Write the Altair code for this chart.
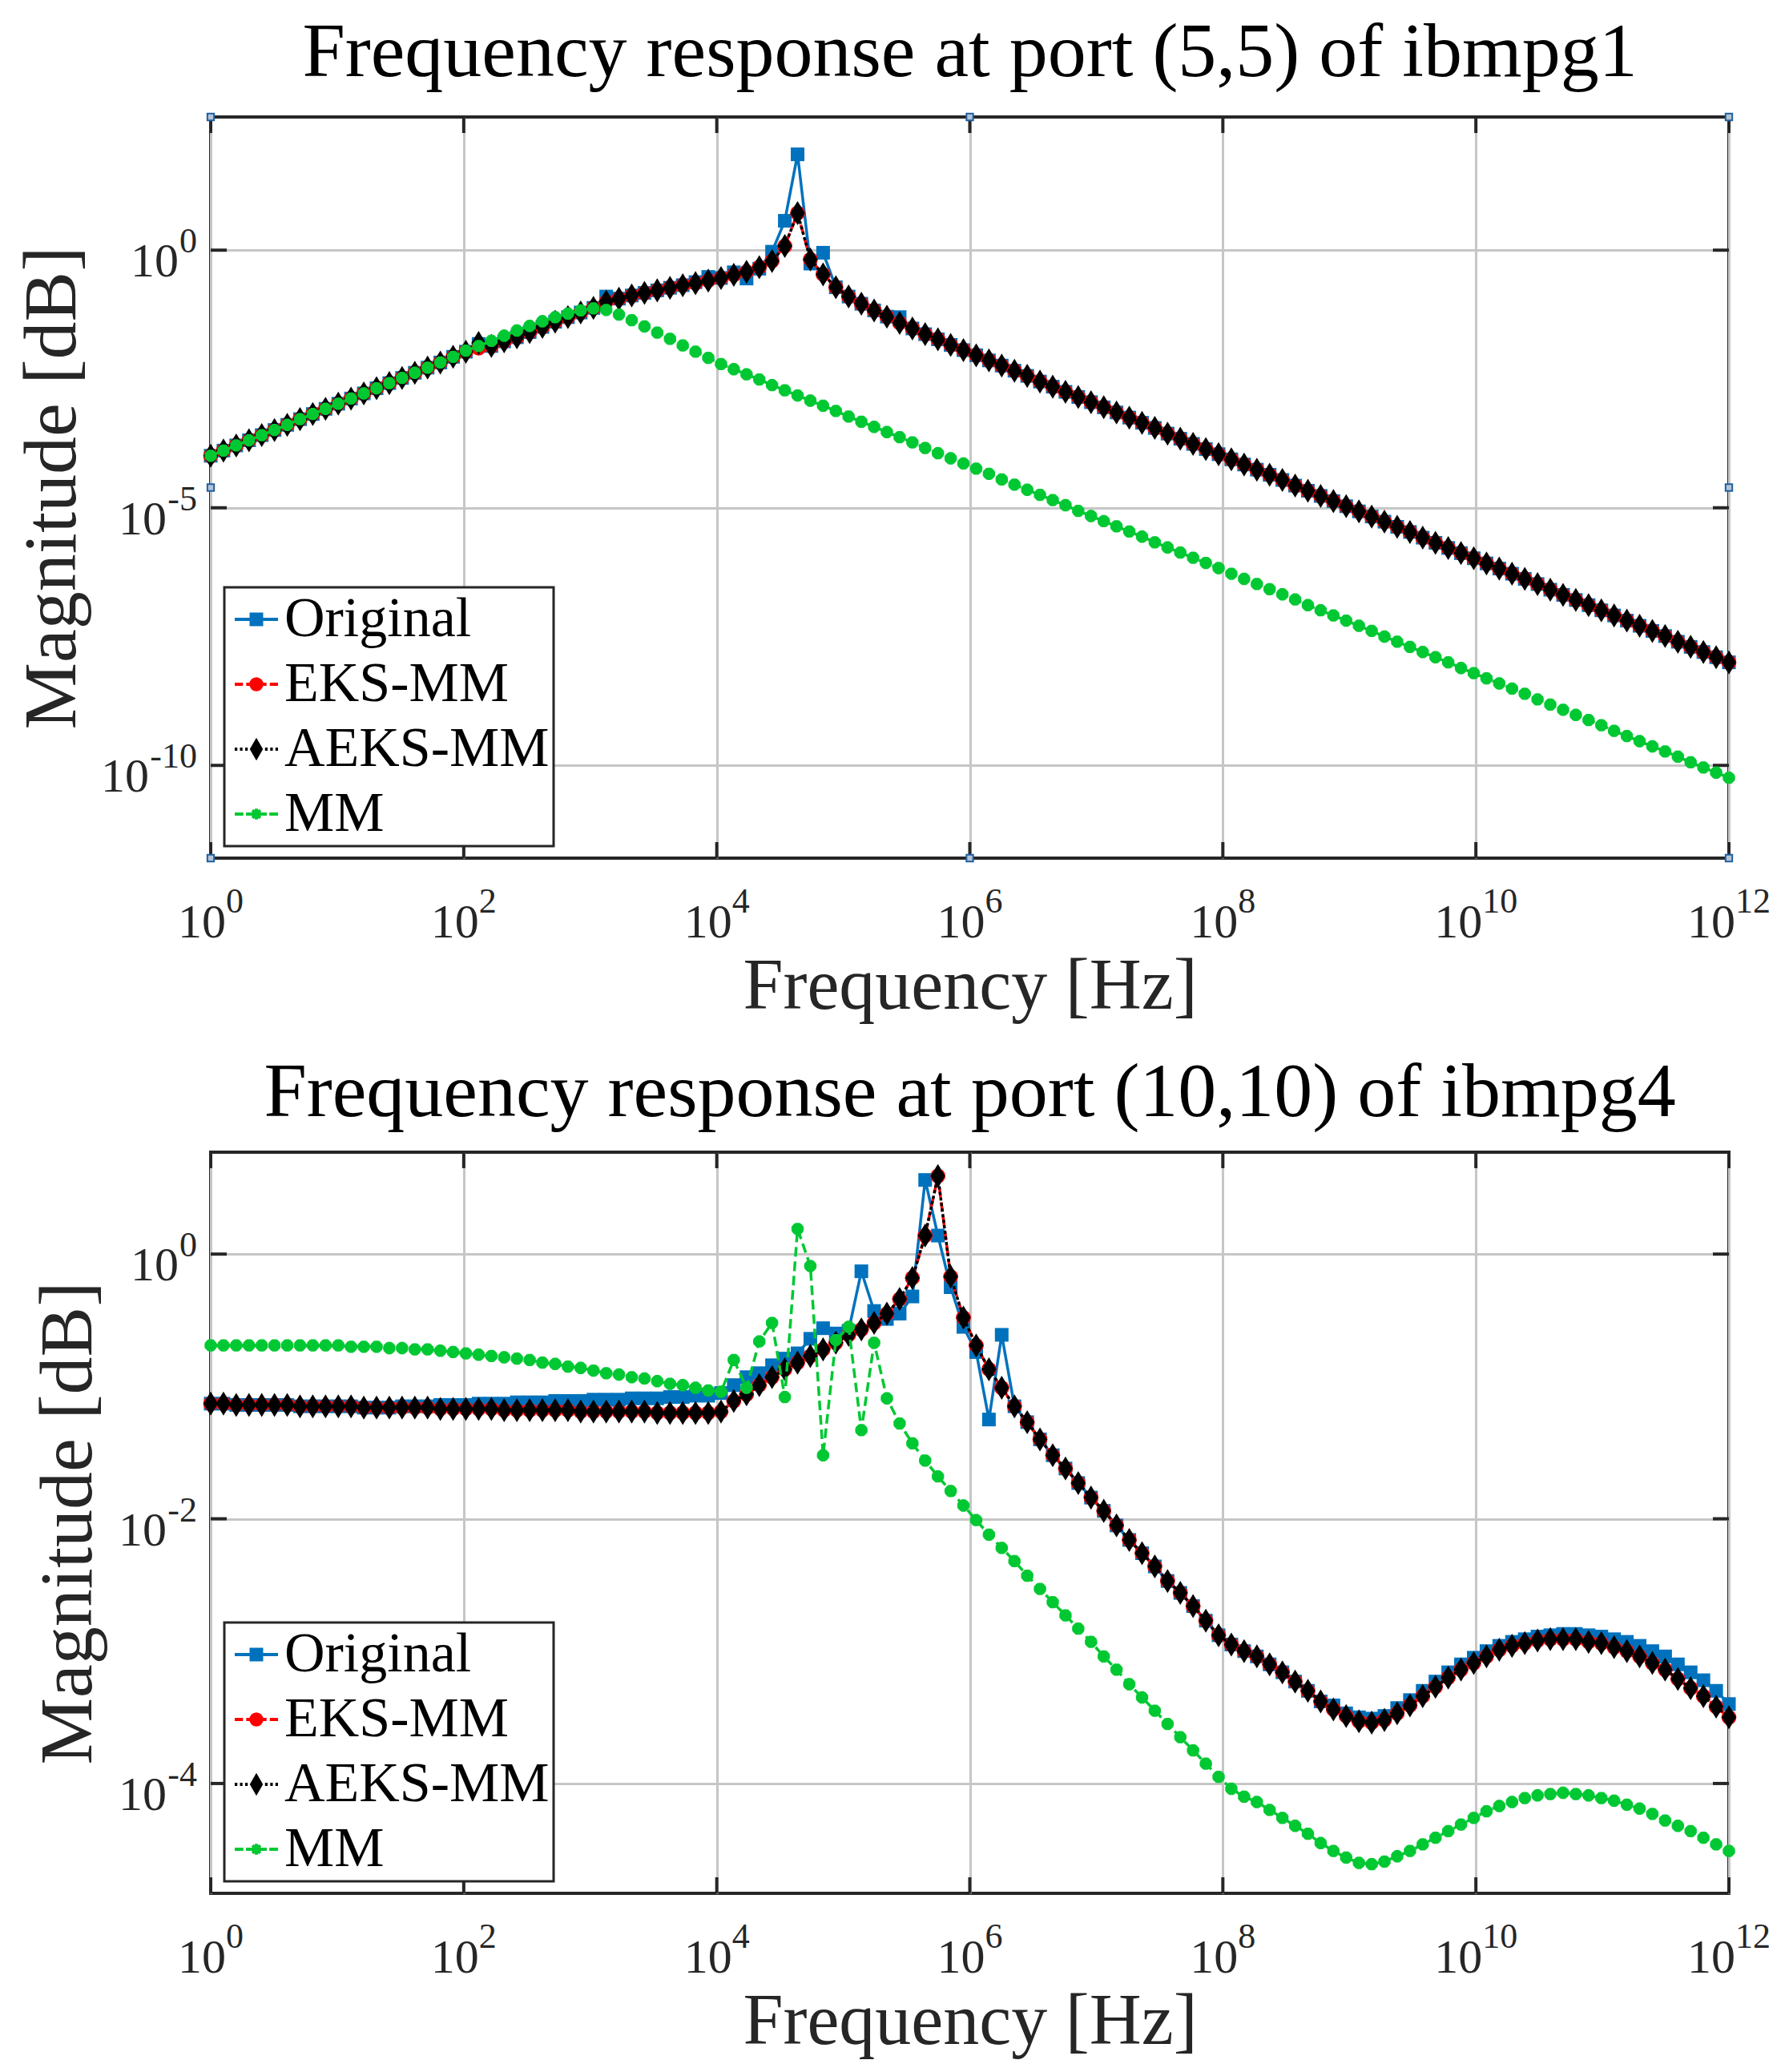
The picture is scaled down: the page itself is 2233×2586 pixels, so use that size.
import numpy as np
import pandas as pd
import altair as alt

# ---------------- data (log10 of magnitude) ----------------
FREQ = np.logspace(0, 12, 120)
SERIES = ["Original", "EKS-MM", "AEKS-MM", "MM"]
COLORS = ["#0072BD", "#FF0000", "#000000", "#00C832"]
X_EXP = [0, 2, 4, 6, 8, 10, 12]
TOP_Y_EXP = [0, -5, -10]
BOT_Y_EXP = [0, -2, -4]

TOP_AEKS = [
    -3.99, -3.89, -3.79, -3.69, -3.59, -3.49, -3.39, -3.28, -3.18, -3.08,
    -2.98, -2.88, -2.78, -2.68, -2.58, -2.48, -2.38, -2.28, -2.18, -2.07,
    -1.97, -1.80, -1.86, -1.77, -1.69, -1.59, -1.49, -1.39, -1.30, -1.21,
    -1.12, -1.00, -0.94, -0.88, -0.83, -0.78, -0.73, -0.68, -0.64, -0.59,
    -0.54, -0.48, -0.42, -0.33, -0.21, 0.08, 0.72, -0.18, -0.47, -0.72,
    -0.90, -1.04, -1.17, -1.29, -1.41, -1.52, -1.63, -1.73, -1.84, -1.94,
    -2.04, -2.14, -2.24, -2.34, -2.44, -2.55, -2.65, -2.75, -2.85, -2.95,
    -3.05, -3.15, -3.25, -3.35, -3.45, -3.56, -3.66, -3.76, -3.86, -3.96,
    -4.06, -4.16, -4.26, -4.36, -4.46, -4.57, -4.67, -4.77, -4.87, -4.97,
    -5.07, -5.17, -5.27, -5.37, -5.47, -5.58, -5.68, -5.78, -5.88, -5.98,
    -6.08, -6.18, -6.28, -6.38, -6.48, -6.59, -6.69, -6.79, -6.89, -6.99,
    -7.09, -7.19, -7.29, -7.39, -7.49, -7.60, -7.70, -7.80, -7.90, -8.00]

TOP_EKS = [
    -3.99, -3.89, -3.79, -3.69, -3.59, -3.49, -3.39, -3.28, -3.18, -3.08,
    -2.98, -2.88, -2.78, -2.68, -2.58, -2.48, -2.38, -2.28, -2.18, -2.07,
    -1.97, -1.90, -1.86, -1.77, -1.69, -1.59, -1.49, -1.39, -1.30, -1.21,
    -1.12, -1.00, -0.94, -0.88, -0.83, -0.78, -0.73, -0.68, -0.64, -0.59,
    -0.54, -0.48, -0.42, -0.33, -0.21, 0.08, 0.72, -0.18, -0.47, -0.72,
    -0.90, -1.04, -1.17, -1.29, -1.41, -1.52, -1.63, -1.73, -1.84, -1.94,
    -2.04, -2.14, -2.24, -2.34, -2.44, -2.55, -2.65, -2.75, -2.85, -2.95,
    -3.05, -3.15, -3.25, -3.35, -3.45, -3.56, -3.66, -3.76, -3.86, -3.96,
    -4.06, -4.16, -4.26, -4.36, -4.46, -4.57, -4.67, -4.77, -4.87, -4.97,
    -5.07, -5.17, -5.27, -5.37, -5.47, -5.58, -5.68, -5.78, -5.88, -5.98,
    -6.08, -6.18, -6.28, -6.38, -6.48, -6.59, -6.69, -6.79, -6.89, -6.99,
    -7.09, -7.19, -7.29, -7.39, -7.49, -7.60, -7.70, -7.80, -7.90, -8.00]

TOP_ORIG = [
    -3.99, -3.89, -3.79, -3.69, -3.59, -3.49, -3.39, -3.28, -3.18, -3.08,
    -2.98, -2.88, -2.78, -2.68, -2.58, -2.48, -2.38, -2.28, -2.18, -2.07,
    -1.97, -1.82, -1.86, -1.77, -1.69, -1.59, -1.49, -1.39, -1.30, -1.21,
    -1.12, -0.90, -0.94, -0.88, -0.83, -0.78, -0.73, -0.68, -0.62, -0.52,
    -0.54, -0.43, -0.55, -0.36, -0.03, 0.57, 1.86, -0.26, -0.05, -0.72,
    -0.90, -1.04, -1.17, -1.29, -1.30, -1.52, -1.63, -1.73, -1.84, -1.94,
    -2.04, -2.14, -2.24, -2.34, -2.44, -2.55, -2.65, -2.75, -2.85, -2.95,
    -3.05, -3.15, -3.25, -3.35, -3.45, -3.56, -3.66, -3.76, -3.86, -3.96,
    -4.06, -4.16, -4.26, -4.36, -4.46, -4.57, -4.67, -4.77, -4.87, -4.97,
    -5.07, -5.17, -5.27, -5.37, -5.47, -5.58, -5.68, -5.78, -5.88, -5.98,
    -6.08, -6.18, -6.28, -6.38, -6.48, -6.59, -6.69, -6.79, -6.89, -6.99,
    -7.09, -7.19, -7.29, -7.39, -7.49, -7.60, -7.70, -7.80, -7.90, -8.00]

TOP_MM = [
    -3.99, -3.89, -3.79, -3.69, -3.59, -3.49, -3.39, -3.28, -3.18, -3.08,
    -2.98, -2.88, -2.78, -2.68, -2.58, -2.48, -2.38, -2.28, -2.18, -2.07,
    -1.95, -1.86, -1.76, -1.66, -1.56, -1.47, -1.38, -1.30, -1.23, -1.17,
    -1.13, -1.16, -1.25, -1.36, -1.48, -1.60, -1.72, -1.85, -1.97, -2.09,
    -2.21, -2.31, -2.41, -2.51, -2.62, -2.72, -2.82, -2.92, -3.02, -3.12,
    -3.23, -3.33, -3.43, -3.53, -3.63, -3.73, -3.84, -3.94, -4.04, -4.14,
    -4.24, -4.34, -4.45, -4.55, -4.65, -4.75, -4.85, -4.95, -5.06, -5.16,
    -5.26, -5.36, -5.46, -5.56, -5.67, -5.77, -5.87, -5.97, -6.07, -6.17,
    -6.28, -6.38, -6.48, -6.58, -6.68, -6.78, -6.89, -6.99, -7.09, -7.19,
    -7.29, -7.39, -7.50, -7.60, -7.70, -7.80, -7.90, -8.00, -8.11, -8.21,
    -8.31, -8.41, -8.51, -8.61, -8.72, -8.82, -8.92, -9.02, -9.12, -9.22,
    -9.33, -9.43, -9.53, -9.63, -9.73, -9.83, -9.94, -10.04, -10.14, -10.24]

BOT_AEKS = [
    -1.13, -1.13, -1.14, -1.14, -1.14, -1.14, -1.14, -1.15, -1.15, -1.15,
    -1.15, -1.15, -1.16, -1.16, -1.16, -1.16, -1.16, -1.16, -1.17, -1.17,
    -1.17, -1.17, -1.17, -1.18, -1.18, -1.18, -1.18, -1.18, -1.18, -1.19,
    -1.19, -1.19, -1.19, -1.19, -1.19, -1.20, -1.20, -1.20, -1.20, -1.20,
    -1.19, -1.11, -1.06, -0.99, -0.93, -0.87, -0.82, -0.77, -0.72, -0.67,
    -0.61, -0.57, -0.52, -0.45, -0.34, -0.18, 0.14, 0.59, -0.17, -0.48,
    -0.69, -0.87, -1.01, -1.15, -1.27, -1.40, -1.52, -1.62, -1.73, -1.84,
    -1.94, -2.05, -2.16, -2.26, -2.36, -2.47, -2.56, -2.66, -2.77, -2.88,
    -2.95, -3.00, -3.04, -3.10, -3.16, -3.23, -3.30, -3.38, -3.44, -3.49,
    -3.53, -3.54, -3.52, -3.47, -3.41, -3.34, -3.27, -3.20, -3.14, -3.09,
    -3.04, -2.99, -2.96, -2.94, -2.92, -2.91, -2.91, -2.91, -2.93, -2.94,
    -2.97, -3.00, -3.04, -3.09, -3.14, -3.21, -3.28, -3.34, -3.42, -3.50]

BOT_EKS = [
    -1.13, -1.13, -1.14, -1.14, -1.14, -1.14, -1.14, -1.15, -1.15, -1.15,
    -1.15, -1.15, -1.16, -1.16, -1.16, -1.16, -1.16, -1.16, -1.17, -1.17,
    -1.17, -1.17, -1.17, -1.18, -1.18, -1.18, -1.18, -1.18, -1.18, -1.19,
    -1.19, -1.19, -1.19, -1.19, -1.19, -1.20, -1.20, -1.20, -1.20, -1.20,
    -1.19, -1.11, -1.06, -0.99, -0.93, -0.87, -0.82, -0.77, -0.72, -0.67,
    -0.61, -0.57, -0.52, -0.45, -0.34, -0.18, 0.14, 0.59, -0.17, -0.48,
    -0.69, -0.87, -1.01, -1.15, -1.27, -1.40, -1.52, -1.62, -1.73, -1.84,
    -1.94, -2.05, -2.16, -2.26, -2.36, -2.47, -2.56, -2.66, -2.77, -2.88,
    -2.95, -3.00, -3.04, -3.10, -3.16, -3.23, -3.30, -3.38, -3.44, -3.49,
    -3.53, -3.54, -3.52, -3.47, -3.41, -3.34, -3.27, -3.20, -3.14, -3.09,
    -3.04, -2.99, -2.96, -2.94, -2.92, -2.91, -2.91, -2.91, -2.93, -2.94,
    -2.97, -3.00, -3.04, -3.09, -3.14, -3.21, -3.28, -3.34, -3.42, -3.50]

BOT_ORIG = [
    -1.13, -1.13, -1.14, -1.14, -1.14, -1.14, -1.14, -1.15, -1.15, -1.15,
    -1.15, -1.15, -1.16, -1.16, -1.16, -1.15, -1.15, -1.15, -1.14, -1.14,
    -1.14, -1.13, -1.13, -1.13, -1.12, -1.12, -1.12, -1.11, -1.11, -1.11,
    -1.10, -1.10, -1.10, -1.09, -1.09, -1.09, -1.08, -1.08, -1.07, -1.07,
    -1.05, -0.99, -0.93, -0.90, -0.84, -0.79, -0.75, -0.64, -0.56, -0.60,
    -0.58, -0.13, -0.43, -0.49, -0.45, -0.32, 0.56, 0.14, -0.25, -0.55,
    -0.74, -1.25, -0.61, -1.15, -1.27, -1.40, -1.52, -1.62, -1.73, -1.84,
    -1.94, -2.05, -2.16, -2.26, -2.36, -2.47, -2.56, -2.66, -2.77, -2.88,
    -2.95, -3.00, -3.04, -3.10, -3.16, -3.23, -3.30, -3.38, -3.41, -3.47,
    -3.50, -3.51, -3.49, -3.43, -3.37, -3.30, -3.23, -3.16, -3.10, -3.05,
    -3.00, -2.96, -2.93, -2.91, -2.89, -2.88, -2.87, -2.87, -2.88, -2.89,
    -2.91, -2.93, -2.96, -3.00, -3.04, -3.10, -3.16, -3.22, -3.30, -3.40]

BOT_MM = [
    -0.69, -0.69, -0.69, -0.69, -0.69, -0.69, -0.69, -0.69, -0.69, -0.69,
    -0.69, -0.70, -0.70, -0.70, -0.71, -0.71, -0.72, -0.72, -0.73, -0.74,
    -0.75, -0.76, -0.77, -0.78, -0.79, -0.80, -0.82, -0.83, -0.85, -0.86,
    -0.88, -0.90, -0.91, -0.93, -0.94, -0.96, -0.98, -0.99, -1.01, -1.03,
    -1.04, -0.80, -1.01, -0.66, -0.52, -1.08, 0.19, -0.09, -1.52, -0.65,
    -0.55, -1.33, -0.67, -1.09, -1.28, -1.43, -1.56, -1.68, -1.79, -1.90,
    -2.01, -2.12, -2.22, -2.32, -2.43, -2.53, -2.63, -2.73, -2.83, -2.93,
    -3.04, -3.14, -3.25, -3.35, -3.45, -3.55, -3.65, -3.75, -3.85, -3.95,
    -4.04, -4.10, -4.14, -4.20, -4.26, -4.32, -4.38, -4.45, -4.51, -4.56,
    -4.60, -4.61, -4.59, -4.55, -4.51, -4.46, -4.41, -4.36, -4.31, -4.26,
    -4.21, -4.17, -4.14, -4.11, -4.09, -4.08, -4.07, -4.08, -4.09, -4.11,
    -4.13, -4.16, -4.19, -4.23, -4.28, -4.32, -4.36, -4.41, -4.46, -4.51]

TOP_YDOM = [10 ** -11.8, 10 ** 2.585]
BOT_YDOM = [10 ** -4.83, 10 ** 0.77]

# ---------------- styling ----------------
W = 1895
H = 925
FONT = "Liberation Serif"
AX = "#262626"
GRID = "#c6c6c6"

DIAMOND = "M0,-1.4L0.85,0L0,1.4L-0.85,0Z"
ASTER = "M-1,0L1,0M0,-1L0,1M-0.7,-0.7L0.7,0.7M-0.7,0.7L0.7,-0.7"
LEG_PATHS = [
    "M-1,0H1M-0.24,-0.24H0.24V0.24H-0.24Z",
    "M-1,0H-0.62M-0.47,0H-0.3M0.3,0H0.47M0.62,0H1"
    "M-0.25,0A0.25,0.25,0,1,0,0.25,0A0.25,0.25,0,1,0,-0.25,0Z",
    "M-1,0H-0.88M-0.76,0H-0.64M-0.52,0H-0.4M0.4,0H0.52M0.64,0H0.76M0.88,0H1"
    "M0,-0.38L0.22,0L0,0.38L-0.22,0Z",
    "M-1,0H-0.6M-0.48,0H-0.25M0.25,0H0.48M0.6,0H1"
    "M-0.25,0H0.25M0,-0.25V0.25M-0.18,-0.18L0.18,0.18M-0.18,0.18L0.18,-0.18",
]

W_EXPR = "length(replace(datum.exp, '-', '')) * 22 + (indexof(datum.exp, '-') >= 0 ? 15 : 0)"


def panel(title, orig, eks, aeks, mm, ydom, yexps, handles, ytitle_x):
    xs = alt.Scale(type="log", domain=[1, 1e12], nice=False)
    ys = alt.Scale(type="log", domain=ydom, nice=False)
    xvals = [10.0 ** e for e in X_EXP]
    yvals = [10.0 ** e for e in yexps]
    xaxis = alt.Axis(values=xvals, grid=True, gridColor=GRID, gridWidth=3,
                     labels=False, ticks=False, domain=False,
                     title="Frequency [Hz]", titleFont=FONT, titleFontSize=90,
                     titleFontWeight="normal", titleColor=AX, titleY=187,
                     titleBaseline="alphabetic")
    yaxis = alt.Axis(values=yvals, grid=True, gridColor=GRID, gridWidth=3,
                     labels=False, ticks=False, domain=False,
                     title="Magnitude [dB]", titleFont=FONT, titleFontSize=94,
                     titleFontWeight="normal", titleColor=AX, titleAngle=270,
                     titleX=ytitle_x, titleY=H / 2, titleBaseline="alphabetic",
                     titleAlign="center")

    def xe(field):
        return alt.X(f"{field}:Q", scale=xs, axis=xaxis)

    def ye(field):
        return alt.Y(f"{field}:Q", scale=ys, axis=yaxis)

    layers = []
    # inward ticks on all four sides
    tx = pd.DataFrame({"f": xvals})
    ty = pd.DataFrame({"m": yvals})
    layers.append(alt.Chart(tx).mark_rule(color=AX, strokeWidth=4).encode(
        x=xe("f"), y=alt.value(0), y2=alt.value(20)))
    layers.append(alt.Chart(tx).mark_rule(color=AX, strokeWidth=4).encode(
        x=xe("f"), y=alt.value(H - 20), y2=alt.value(H)))
    layers.append(alt.Chart(ty).mark_rule(color=AX, strokeWidth=4).encode(
        y=ye("m"), x=alt.value(0), x2=alt.value(20)))
    layers.append(alt.Chart(ty).mark_rule(color=AX, strokeWidth=4).encode(
        y=ye("m"), x=alt.value(W - 20), x2=alt.value(W)))

    specs = [
        (orig, COLORS[0], None, dict(shape="square", filled=True, size=290)),
        (eks, COLORS[1], [12, 6], dict(shape="circle", filled=True, size=350)),
        (aeks, COLORS[2], [4, 3], dict(shape=DIAMOND, filled=True, size=460)),
        (mm, COLORS[3], [12, 6], dict(shape=ASTER, filled=False, size=235, strokeWidth=5.5)),
    ]
    for vals, col, dash, pt in specs:
        df = pd.DataFrame({"f": FREQ, "m": np.power(10.0, np.array(vals))})
        lkw = dict(color=col, strokeWidth=3.5)
        if dash is not None:
            lkw["strokeDash"] = dash
        layers.append(alt.Chart(df).mark_line(**lkw).encode(x=xe("f"), y=ye("m")))
        layers.append(alt.Chart(df).mark_point(color=col, opacity=1, **pt).encode(
            x=xe("f"), y=ye("m")))

    # tick labels: "10" plus a raised exponent
    xl = pd.DataFrame({"f": xvals, "exp": [str(e) for e in X_EXP]})
    xb = alt.Chart(xl).transform_calculate(w=W_EXPR).transform_calculate(
        fx=f"datum.f * pow(10, (30 - datum.w / 2) / {W / 12.0})")
    layers.append(xb.mark_text(text="10", align="right", baseline="alphabetic",
                               font=FONT, fontSize=60, color=AX, dy=99).encode(
        x=xe("fx"), y=alt.value(H)))
    layers.append(xb.mark_text(align="left", baseline="alphabetic",
                               font=FONT, fontSize=44, color=AX, dy=68).encode(
        x=xe("fx"), y=alt.value(H), text="exp:N"))

    yl = pd.DataFrame({"m": yvals, "exp": [str(e) for e in yexps]})
    yb = alt.Chart(yl).transform_calculate(w=W_EXPR).transform_calculate(
        bx="-18 - datum.w")
    layers.append(yb.mark_text(text="10", align="right", baseline="alphabetic",
                               font=FONT, fontSize=60, color=AX, dy=33).encode(
        x=alt.X("bx:Q", scale=None, axis=None), y=ye("m")))
    layers.append(yb.mark_text(align="right", baseline="alphabetic",
                               font=FONT, fontSize=44, color=AX, dy=3).encode(
        x=alt.value(-17), y=ye("m"), text="exp:N"))

    # legend
    leg = alt.Legend(title=None, orient="none", legendX=17, legendY=587,
                     labelFont=FONT, labelFontSize=70, labelColor="black",
                     labelLimit=1000, labelOffset=0, symbolSize=2916,
                     symbolStrokeWidth=4, padding=5, rowPadding=11,
                     strokeColor=AX, fillColor="white", symbolOpacity=1)
    ldf = pd.DataFrame({"series": SERIES})
    layers.append(alt.Chart(ldf).transform_filter("false").mark_point(
        filled=True, opacity=1).encode(
        color=alt.Color("series:N", scale=alt.Scale(domain=SERIES, range=COLORS), legend=leg),
        stroke=alt.Stroke("series:N", scale=alt.Scale(domain=SERIES, range=COLORS), legend=leg),
        shape=alt.Shape("series:N", scale=alt.Scale(domain=SERIES, range=LEG_PATHS), legend=leg),
    ))

    if handles:
        one = pd.DataFrame({"k": [0]})
        for hx, hy in [(0, 0), (W / 2, 0), (W, 0), (0, H / 2), (W, H / 2),
                       (0, H), (W / 2, H), (W, H)]:
            layers.append(alt.Chart(one).mark_point(
                shape="square", filled=True, fill="#b4c4d6", stroke="#1f5fa0",
                strokeWidth=2, size=70, opacity=1).encode(
                x=alt.value(hx), y=alt.value(hy)))

    return alt.layer(*layers).properties(
        width=W, height=H,
        title=alt.TitleParams(text=title, font=FONT, fontSize=96,
                              fontWeight="normal", color="black",
                              anchor="middle", frame="group",
                              baseline="alphabetic", offset=-53))


top = panel("Frequency response at port (5,5) of ibmpg1",
            TOP_ORIG, TOP_EKS, TOP_AEKS, TOP_MM, TOP_YDOM, TOP_Y_EXP, True, -170)
bot = panel("Frequency response at port (10,10) of ibmpg4",
            BOT_ORIG, BOT_EKS, BOT_AEKS, BOT_MM, BOT_YDOM, BOT_Y_EXP, False, -150)

chart = alt.vconcat(top, bot, spacing=36).resolve_scale(
    color="independent", stroke="independent", shape="independent"
).properties(
    padding={"left": 8, "top": 7, "right": 10, "bottom": 5},
    background="white",
).configure_view(stroke=AX, strokeWidth=4).configure_legend(strokeWidth=3)

chart.save("out.html", embed_options={"renderer": "svg", "actions": False})
